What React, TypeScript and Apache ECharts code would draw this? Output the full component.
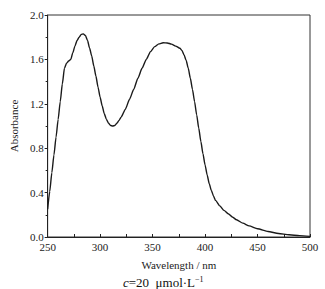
import React, { useEffect, useRef } from "react";
import * as echarts from "echarts";

const wavelengths = [
  250, 252, 254, 256, 258, 260, 262, 264, 266, 268, 270, 272, 274, 276, 278, 280,
  282, 284, 286, 288, 290, 292, 294, 296, 298, 300, 302, 304, 306, 308, 310, 312,
  314, 316, 318, 320, 324, 328, 332, 336, 340, 344, 348, 352, 356, 360, 364, 368,
  372, 376, 378, 380, 382, 384, 386, 388, 390, 392, 394, 396, 398, 400, 402, 404,
  406, 408, 410, 414, 418, 422, 426, 430, 436, 442, 450, 460, 470, 480, 490, 500,
];
const absorbance = [
  0.25, 0.41, 0.58, 0.74, 0.9, 1.06, 1.22, 1.38, 1.52, 1.565, 1.585, 1.6, 1.66, 1.72, 1.77, 1.8,
  1.825, 1.83, 1.815, 1.77, 1.7, 1.63, 1.54, 1.45, 1.35, 1.26, 1.18, 1.11, 1.06, 1.025, 1.005, 1.0,
  1.005, 1.025, 1.05, 1.08, 1.15, 1.24, 1.33, 1.43, 1.52, 1.6, 1.67, 1.715, 1.74, 1.75, 1.748, 1.738,
  1.72, 1.7, 1.68, 1.64, 1.59, 1.52, 1.43, 1.33, 1.22, 1.1, 0.98, 0.86, 0.75, 0.65, 0.56, 0.48,
  0.42, 0.37, 0.33, 0.28, 0.24, 0.21, 0.18, 0.155, 0.125, 0.1, 0.075, 0.05, 0.032, 0.02, 0.012, 0.006,
];

const xTicks = [250, 300, 350, 400, 450, 500];
const yTicks = [0, 0.4, 0.8, 1.2, 1.6, 2.0];

const FONT = "'Liberation Serif', 'Times New Roman', serif";

export default function App() {
  const ref = useRef<HTMLDivElement>(null);
  useEffect(() => {
    if (!ref.current) return;
    const chart = echarts.init(ref.current, null, { renderer: "svg" });
    const data = wavelengths.map((w, i) => [w, absorbance[i]]);
    chart.setOption({
      animation: false,
      backgroundColor: "#ffffff",
      grid: {
        left: 37,
        right: 15,
        top: 15,
        bottom: 52,
        show: true,
        borderColor: "#333",
        borderWidth: 1,
        backgroundColor: "transparent",
      },
      xAxis: {
        type: "value",
        min: xTicks[0],
        max: xTicks[xTicks.length - 1],
        interval: xTicks[1] - xTicks[0],
        name: "Wavelength / nm",
        nameLocation: "middle",
        nameGap: 22,
        nameTextStyle: { fontFamily: FONT, fontSize: 11, color: "#222" },
        axisLine: { show: true, lineStyle: { color: "#222", width: 1 } },
        axisTick: { show: true, inside: true, length: 3, lineStyle: { color: "#222" } },
        minorTick: { show: true, splitNumber: 2, length: 3, lineStyle: { color: "#222" } },
        axisLabel: { fontFamily: FONT, fontSize: 11, color: "#222", margin: 4 },
        splitLine: { show: false },
      },
      yAxis: {
        type: "value",
        min: yTicks[0],
        max: yTicks[yTicks.length - 1],
        interval: yTicks[1] - yTicks[0],
        name: "Absorbance",
        nameLocation: "middle",
        nameGap: 28,
        nameTextStyle: { fontFamily: FONT, fontSize: 11, color: "#222" },
        axisLine: { show: true, lineStyle: { color: "#222", width: 1 } },
        axisTick: { show: true, inside: false, length: 3, lineStyle: { color: "#222" } },
        minorTick: { show: true, splitNumber: 2, length: 2, lineStyle: { color: "#222" } },
        axisLabel: {
          fontFamily: FONT,
          fontSize: 11,
          color: "#222",
          margin: 4,
          formatter: (v: number) => v.toFixed(1),
        },
        splitLine: { show: false },
      },
      series: [
        {
          type: "line",
          data,
          smooth: 0.2,
          smoothMonotone: "x",
          showSymbol: false,
          lineStyle: { color: "#1a1a1a", width: 1.4 },
        },
      ],
      graphic: [
        {
          type: "text",
          left: 123,
          top: 275,
          style: {
            text: "{i|c}=20  μmol·L{s|−1}",
            fontFamily: FONT,
            fontSize: 13,
            fill: "#111",
            rich: {
              i: { fontFamily: FONT, fontSize: 13, fontStyle: "italic", fill: "#111" },
              s: { fontFamily: FONT, fontSize: 8, fill: "#111", padding: [0, 0, 7, 0] },
            },
          },
        },
      ],
    });
    return () => chart.dispose();
  }, []);
  return (
    <div
      ref={ref}
      style={{ position: "fixed", left: 0, top: 0, width: 325, height: 289, background: "#fff" }}
    />
  );
}
